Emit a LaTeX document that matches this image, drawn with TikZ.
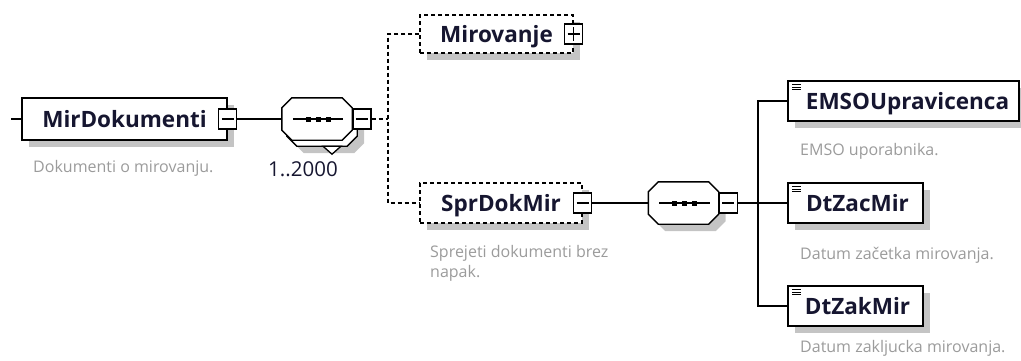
\documentclass[tikz,border=0pt]{standalone}
\usepackage{fontspec}
\setmainfont{Open Sans}
\usepackage{tikz}
\usetikzlibrary{shadows}

\definecolor{namecol}{RGB}{22,22,48}
\definecolor{desccol}{RGB}{155,155,155}
\definecolor{shadowgray}{RGB}{196,196,196}
\newcommand{\namefont}{\fontsize{22.5}{26}\selectfont\bfseries}
\newcommand{\descfont}{\fontsize{16}{20}\selectfont}
\newcommand{\seqpath}[1]{([xshift=10pt]#1.north west) -- ([xshift=-10pt]#1.north east)
  -- ([yshift=-10pt]#1.north east) -- ([yshift=10pt]#1.south east) -- ([xshift=-10pt]#1.south east)
  -- ([xshift=10pt]#1.south west) -- ([yshift=10pt]#1.south west) -- ([yshift=-10pt]#1.north west) -- cycle}
\newcommand{\seqdots}[1]{%
  \draw[line width=1.3pt] ([xshift=11pt]#1.west) -- ([xshift=-9pt]#1.east);
  \foreach \dx in {-10,0,10}
    \fill[black] ([xshift={(\dx-1.5)*1pt}, yshift=-2.5pt]#1.center) rectangle ++(5pt,5pt);}

\tikzset{
  elem/.style={draw, line width=1.5pt, fill=white, minimum height=40pt, inner sep=0pt,
    text height=16pt, text depth=0pt, font=\namefont, text=namecol,
    drop shadow={shadow xshift=7pt, shadow yshift=-7pt, fill=shadowgray, opacity=1}},
  optelem/.style={elem, line width=1.4pt, dash pattern=on 4pt off 3pt},
  leafelem/.style={elem, path picture={
      \foreach \d in {3.5,6,8.5}
        \draw[black, line width=1pt] ([xshift=4pt,yshift=-\d pt]path picture bounding box.north west) -- ++(9pt,0pt);}},
  expbox/.style={draw, line width=1.3pt, fill=white, minimum width=18pt, minimum height=20pt, inner sep=0pt},
  expminus/.style={expbox, path picture={
      \draw[black, line width=1.1pt] ([xshift=3pt]path picture bounding box.west) -- ([xshift=-3pt]path picture bounding box.east);}},
  expplus/.style={expbox, path picture={
      \draw[black, line width=1.1pt] ([xshift=3pt]path picture bounding box.west) -- ([xshift=-3pt]path picture bounding box.east);
      \draw[black, line width=1.1pt] ([yshift=3pt]path picture bounding box.south) -- ([yshift=-3pt]path picture bounding box.north);}},
  seqbox/.style={minimum width=70pt, minimum height=42pt, inner sep=0pt},
  seqline/.style={draw=black, fill=white, line width=1.4pt},
  seqshade/.style={fill=shadowgray, transform canvas={shift={(7pt,-7pt)}}},
  desc/.style={font=\descfont, text=desccol, inner sep=0pt},
  mult/.style={font=\fontsize{20.5}{24}\selectfont, text=namecol, inner sep=0pt},
  conn/.style={line width=1.4pt},
  optconn/.style={conn, dash pattern=on 4pt off 3pt}
}

\begin{document}
\begin{tikzpicture}[x=1pt,y=-1pt]
        \useasboundingbox (0,0) rectangle (1021,360);
        \node[elem, minimum width=205pt, minimum height=42pt] (mirDok) at (124.5,119) {MirDokumenti};
        \node[expminus] (mirDokExp) at (mirDok.east) {};
        \node[desc, anchor=base west] (mirDokDesc) at (33,172) {Dokumenti o mirovanju.};
        \coordinate (root) at (11,119);
        \draw[conn] (root) -- (mirDok);
        \node[seqbox] (seqOneBack) at (322,125) {};
        \fill[seqshade] \seqpath{seqOneBack};
        \path[seqline] \seqpath{seqOneBack};
        \draw[line width=1.3pt, fill=white] ([xshift=1pt]seqOneBack.south) -- ([xshift=19pt]seqOneBack.south)
          -- ([xshift=10pt,yshift=-8pt]seqOneBack.south) -- cycle;
        \node[seqbox] (seqOne) at (317,119) {};
        \path[seqline] \seqpath{seqOne};
        \seqdots{seqOne}
        \node[expminus, anchor=west] (seqOneExp) at (seqOne.east) {};
        \node[mult] (seqOneMult) at (303,169) {1..2000};
        \draw[conn] (mirDokExp) -- (seqOne);
        \node[optelem, minimum width=153pt, minimum height=38pt] (mirov) at (496.5,34) {Mirovanje};
        \node[expplus] (mirovExp) at (mirov.east) {};
        \node[optelem, minimum width=162pt] (sprDok) at (501,203) {SprDokMir};
        \node[expminus] (sprDokExp) at (sprDok.east) {};
        \node[desc, anchor=north west, align=left] (sprDokDesc) at (430,245) {Sprejeti dokumenti brez\\napak.};
        \coordinate (choice) at (388,119);
        \draw[optconn] (seqOneExp) -- (choice);
        \draw[optconn] (mirov.west) -| (choice) |- (sprDok.west);
        \node[seqbox] (seqTwo) at (683.5,203) {};
        \fill[seqshade] \seqpath{seqTwo};
        \path[seqline] \seqpath{seqTwo};
        \seqdots{seqTwo}
        \node[expminus, anchor=west] (seqTwoExp) at (seqTwo.east) {};
        \draw[conn] (sprDokExp) -- (seqTwo);
        \node[leafelem, minimum width=231pt] (emso) at (903.5,101) {\hspace*{8pt}EMSOUpravicenca};
        \node[desc, anchor=base west] (emsoDesc) at (800,155) {EMSO uporabnika.};
        \node[leafelem, minimum width=135pt] (dtZac) at (855.5,203) {\hspace*{4pt}DtZacMir};
        \node[desc, anchor=base west] (dtZacDesc) at (800,259) {Datum začetka mirovanja.};
        \node[leafelem, minimum width=135pt] (dtZak) at (855.5,306) {\hspace*{4pt}DtZakMir};
        \node[desc, anchor=base west] (dtZakDesc) at (800,352) {Datum zakljucka mirovanja.};
        \coordinate (fork) at (758,203);
        \draw[conn] (seqTwoExp) -- (fork);
        \draw[conn] (emso.west) -| (fork) |- (dtZak.west);
        \draw[conn] (fork) -- (dtZac.west);
\end{tikzpicture}
\end{document}
